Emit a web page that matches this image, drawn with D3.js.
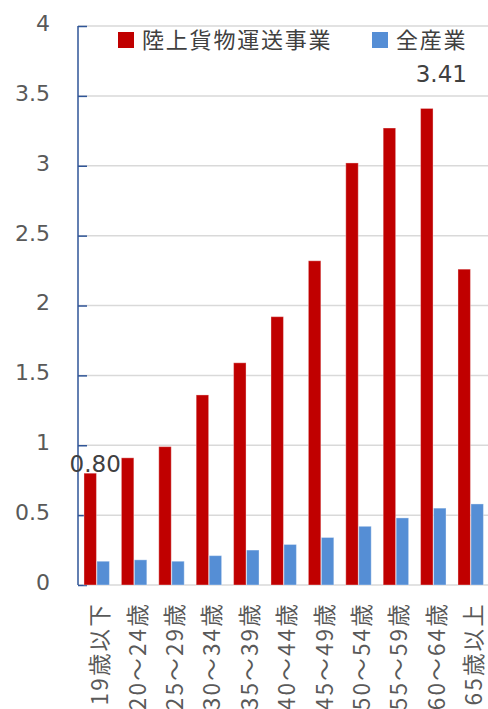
<!DOCTYPE html>
<html lang="ja">
<head>
<meta charset="utf-8">
<script src="https://cdn.jsdelivr.net/npm/d3@7"></script>
<style>
  html, body { margin: 0; padding: 0; background: #fff; }
  svg { display: block; }
</style>
</head>
<body>
<svg id="chart" width="488" height="709"></svg>
<script>
// 年齢階級
const categories = ["19歳以下", "20～24歳", "25～29歳", "30～34歳", "35～39歳", "40～44歳",
                    "45～49歳", "50～54歳", "55～59歳", "60～64歳", "65歳以上"];
// 系列名
const seriesNames = ["陸上貨物運送事業", "全産業"];
// 陸上貨物運送事業
const truckValues = [0.80, 0.91, 0.99, 1.36, 1.59, 1.92, 2.32, 3.02, 3.27, 3.41, 2.26];
// 全産業
const allValues = [0.17, 0.18, 0.17, 0.21, 0.25, 0.29, 0.34, 0.42, 0.48, 0.55, 0.58];
// 目盛
const yTicks = [0, 0.5, 1, 1.5, 2, 2.5, 3, 3.5, 4];
const yTickLabels = ["0", "0.5", "1", "1.5", "2", "2.5", "3", "3.5", "4"];
// 値を表示する棒（陸上貨物運送事業）
const labelledCategories = ["19歳以下", "60～64歳"];

const colors = ["#C00000", "#558ED5"];
const svg = d3.select("#chart");

const plot = { left: 78, right: 489.4, top: 26, bottom: 585 };

const x = d3.scaleBand().domain(categories).range([plot.left, plot.right]).padding(0);
const bw = x.bandwidth();
const xInner = d3.scaleBand().domain(seriesNames)
  .range([bw * 0.16, bw * 0.84]).paddingInner(0.04);
const y = d3.scaleLinear().domain([0, 4]).range([plot.bottom, plot.top]);

// 目盛線
svg.append("g")
  .selectAll("line")
  .data(yTicks.filter(d => d > 0))
  .join("line")
  .attr("x1", plot.left).attr("x2", 488)
  .attr("y1", d => y(d)).attr("y2", d => y(d))
  .attr("stroke", "#D9D9D9").attr("stroke-width", 1.5);

// 横軸
svg.append("line")
  .attr("x1", plot.left).attr("x2", 488)
  .attr("y1", y(0)).attr("y2", y(0))
  .attr("stroke", "#D9D9D9").attr("stroke-width", 1.5);

// 縦軸
const yAxis = d3.axisRight(y)
  .tickValues(yTicks)
  .tickSize(9)
  .tickFormat("");
const yAxisG = svg.append("g")
  .attr("transform", `translate(${plot.left},0)`)
  .call(yAxis);
yAxisG.select(".domain").attr("stroke", "#2F5597").attr("stroke-width", 1.5)
  .attr("d", `M0,${y(4)}V${y(0)}`);
yAxisG.selectAll(".tick line").attr("stroke", "#2F5597").attr("stroke-width", 1.5);

// 縦軸ラベル
svg.append("g")
  .selectAll("text")
  .data(yTicks)
  .join("text")
  .attr("x", 50)
  .attr("y", d => y(d) - 3)
  .attr("dy", "0.36em")
  .attr("text-anchor", "end")
  .attr("font-family", "'DejaVu Sans', Verdana, sans-serif")
  .attr("font-size", 22)
  .attr("fill", "#595959")
  .text((d, i) => yTickLabels[i]);

// 棒
const rows = categories.map((c, i) => ({ cat: c, vals: [truckValues[i], allValues[i]] }));
const groups = svg.append("g")
  .selectAll("g")
  .data(rows)
  .join("g")
  .attr("transform", d => `translate(${x(d.cat)},0)`);
groups.selectAll("rect")
  .data(d => d.vals.map((v, k) => ({ key: seriesNames[k], v, k })))
  .join("rect")
  .attr("x", d => xInner(d.key))
  .attr("width", xInner.bandwidth())
  .attr("y", d => y(d.v))
  .attr("height", d => y(0) - y(d.v))
  .attr("fill", d => colors[d.k])
  .attr("stroke", "rgba(255,255,255,0.35)")
  .attr("stroke-width", 1);

// 横軸ラベル（回転）
svg.append("g")
  .selectAll("text")
  .data(categories)
  .join("text")
  .attr("transform", d => `translate(${x(d) + bw / 2 + 3},602) rotate(-90)`)
  .attr("text-anchor", "end")
  .attr("dy", "0.38em")
  .attr("font-family", "'Noto Sans CJK JP', sans-serif")
  .attr("font-size", 22.5)
  .attr("letter-spacing", 2.2)
  .attr("fill", "#595959")
  .text(d => d);

// データラベル
const labelOffsets = { "19歳以下": { dx: -1.5, dy: -1 }, "60～64歳": { dx: 8, dy: -26 } };
svg.append("g")
  .selectAll("text")
  .data(labelledCategories)
  .join("text")
  .attr("x", d => x(d) + bw / 2 + labelOffsets[d].dx)
  .attr("y", d => y(truckValues[categories.indexOf(d)]) + labelOffsets[d].dy)
  .attr("text-anchor", "middle")
  .attr("font-family", "'DejaVu Sans', Verdana, sans-serif")
  .attr("font-size", 23)
  .attr("fill", "#404040")
  .text(d => truckValues[categories.indexOf(d)].toFixed(2));

// 凡例
const legendX = [118, 372];
const legend = svg.append("g")
  .selectAll("g")
  .data(seriesNames)
  .join("g")
  .attr("transform", (d, i) => `translate(${legendX[i]},32)`);
legend.append("rect")
  .attr("width", 16).attr("height", 16)
  .attr("fill", (d, i) => colors[i]);
legend.append("text")
  .attr("x", 24)
  .attr("y", 8)
  .attr("dy", "0.36em")
  .attr("font-family", "'Noto Sans CJK JP', sans-serif")
  .attr("font-size", 22)
  .attr("letter-spacing", 1.8)
  .attr("fill", "#404040")
  .text(d => d);
</script>
</body>
</html>
